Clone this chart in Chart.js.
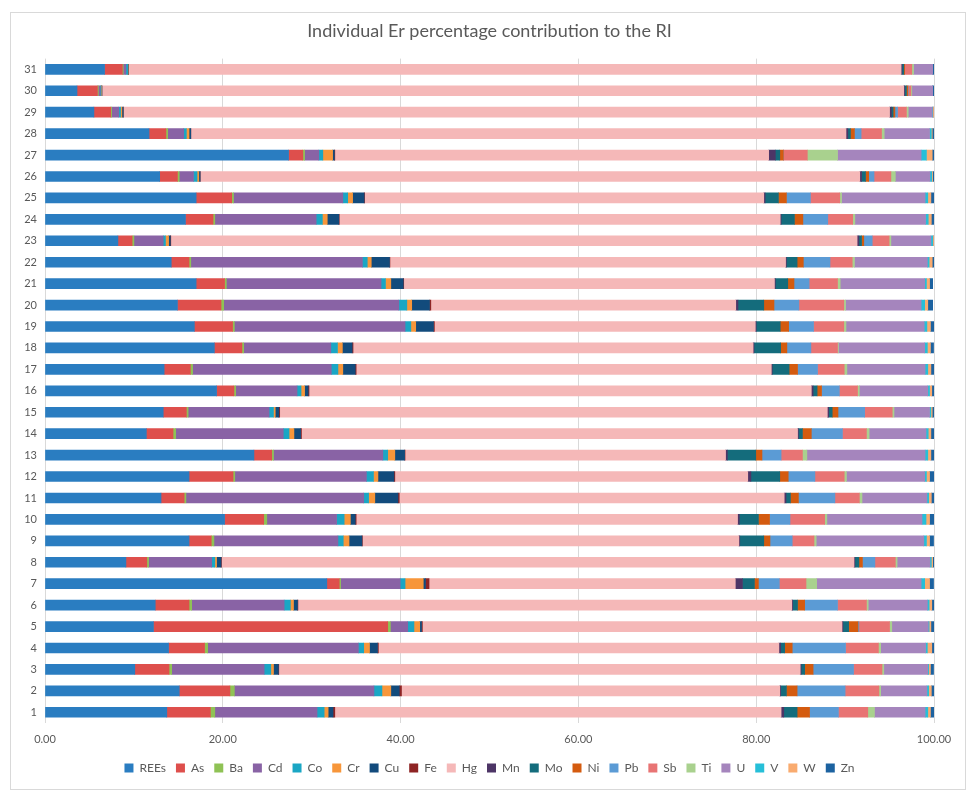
<!DOCTYPE html>
<html lang="en">
<head>
<meta charset="UTF-8">
<title>Individual Er percentage contribution to the RI</title>
<script src="https://cdn.jsdelivr.net/npm/chart.js"></script>
<style>
  html, body { margin: 0; padding: 0; background: #ffffff; }
  #wrap { width: 975px; height: 794px; position: relative; }
</style>
</head>
<body>
<div id="wrap">
  <canvas id="grafico" width="975" height="794"></canvas>
</div>

<script>
// rows 1..31 (row 1 is drawn at the bottom)
const linhas = ['1','2','3','4','5','6','7','8','9','10','11','12','13','14','15','16','17','18','19','20','21','22','23','24','25','26','27','28','29','30','31'];
const xTicks = [0, 20, 40, 60, 80, 100];

const rees = [13.7, 15.1, 10.1, 13.9, 12.2, 12.4, 31.7, 9.1, 16.2, 20.2, 13.05, 16.2, 23.5, 11.4, 13.3, 19.3, 13.4, 19.05, 16.8, 14.9, 17.0, 14.2, 8.2, 15.8, 17.0, 12.9, 27.4, 11.7, 5.5, 3.6, 6.7];
const as = [4.9, 5.7, 3.85, 4.05, 26.35, 3.8, 1.4, 2.35, 2.5, 4.4, 2.6, 4.95, 2.0, 3.0, 2.6, 1.95, 2.95, 3.1, 4.3, 4.9, 3.2, 2.0, 1.6, 3.1, 4.0, 2.0, 1.6, 1.9, 1.9, 2.3, 2.0];
const ba = [0.5, 0.5, 0.3, 0.35, 0.3, 0.3, 0.15, 0.2, 0.3, 0.35, 0.2, 0.2, 0.2, 0.3, 0.2, 0.2, 0.25, 0.2, 0.2, 0.3, 0.2, 0.2, 0.2, 0.2, 0.2, 0.2, 0.2, 0.2, 0.1, 0.1, 0.1];
const cd = [11.5, 15.7, 10.4, 16.95, 1.95, 10.4, 6.7, 7.1, 13.95, 7.85, 20.0, 14.8, 12.3, 12.1, 9.1, 6.9, 15.6, 9.8, 19.2, 19.7, 17.4, 19.3, 3.3, 11.4, 12.3, 1.6, 1.6, 1.8, 0.8, 0.2, 0.3];
const co = [0.8, 0.9, 0.75, 0.6, 0.7, 0.7, 0.55, 0.35, 0.6, 0.85, 0.55, 0.8, 0.55, 0.65, 0.5, 0.45, 0.75, 0.75, 0.65, 0.9, 0.5, 0.55, 0.25, 0.7, 0.55, 0.4, 0.45, 0.3, 0.2, 0.1, 0.2];
const cr = [0.45, 1.0, 0.3, 0.65, 0.65, 0.35, 2.05, 0.2, 0.65, 0.7, 0.7, 0.5, 0.8, 0.55, 0.2, 0.4, 0.55, 0.55, 0.55, 0.55, 0.6, 0.45, 0.35, 0.55, 0.55, 0.2, 1.1, 0.3, 0.15, 0.05, 0.05];
const cu = [0.55, 0.95, 0.55, 0.9, 0.2, 0.45, 0.25, 0.5, 1.45, 0.55, 2.6, 1.8, 1.1, 0.75, 0.4, 0.4, 1.4, 1.1, 2.0, 2.0, 1.4, 2.05, 0.2, 1.3, 1.3, 0.15, 0.2, 0.2, 0.15, 0.05, 0.05];
const fe = [0.2, 0.25, 0.05, 0.1, 0.1, 0.05, 0.4, 0.05, 0.05, 0.1, 0.15, 0.1, 0.05, 0.1, 0.1, 0.1, 0.1, 0.1, 0.1, 0.15, 0.05, 0.05, 0.05, 0.05, 0.05, 0.0, 0.05, 0.0, 0.0, 0.0, 0.0];
const hg = [50.2, 42.55, 58.65, 45.05, 47.2, 55.55, 34.45, 71.15, 42.35, 42.9, 43.3, 39.7, 36.05, 55.8, 61.6, 56.5, 46.7, 45.0, 36.1, 34.3, 41.7, 44.5, 77.2, 49.6, 44.9, 74.2, 48.8, 73.7, 86.2, 90.2, 86.9];
const mn = [0.3, 0.1, 0.1, 0.2, 0.1, 0.1, 0.8, 0.1, 0.1, 0.2, 0.2, 0.35, 0.2, 0.1, 0.15, 0.2, 0.1, 0.1, 0.1, 0.25, 0.1, 0.1, 0.2, 0.1, 0.15, 0.2, 0.75, 0.2, 0.2, 0.1, 0.1];
const mo = [1.5, 0.65, 0.4, 0.45, 0.65, 0.55, 1.35, 0.45, 2.7, 2.15, 0.5, 3.25, 3.2, 0.45, 0.4, 0.45, 1.9, 3.0, 2.7, 2.9, 1.4, 1.2, 0.3, 1.5, 1.5, 0.45, 0.5, 0.3, 0.2, 0.2, 0.2];
const ni = [1.4, 1.2, 0.95, 0.85, 1.05, 0.8, 0.45, 0.4, 0.7, 1.25, 0.9, 0.95, 0.7, 1.0, 0.65, 0.5, 0.95, 0.7, 0.95, 1.15, 0.7, 0.7, 0.25, 0.95, 0.9, 0.35, 0.4, 0.45, 0.2, 0.15, 0.1];
const pb = [3.25, 5.4, 4.55, 6.0, 0.1, 3.7, 2.35, 1.4, 2.5, 2.3, 4.1, 3.0, 2.15, 3.5, 3.0, 2.0, 2.25, 2.7, 2.8, 2.8, 1.7, 3.0, 0.95, 2.8, 2.7, 0.6, 0.0, 0.75, 0.3, 0.05, 0.0];
const sb = [3.3, 3.8, 3.2, 3.7, 3.45, 3.25, 3.0, 2.3, 2.45, 3.9, 2.75, 3.3, 2.4, 2.7, 3.1, 2.05, 3.0, 3.0, 3.4, 5.05, 3.2, 2.5, 1.9, 2.8, 3.3, 1.9, 2.7, 2.3, 1.0, 0.3, 0.8];
const ti = [0.75, 0.2, 0.2, 0.25, 0.25, 0.2, 1.2, 0.2, 0.25, 0.25, 0.3, 0.25, 0.5, 0.3, 0.2, 0.2, 0.3, 0.1, 0.25, 0.2, 0.3, 0.25, 0.2, 0.25, 0.2, 0.5, 3.4, 0.3, 0.2, 0.1, 0.2];
const u = [5.7, 5.2, 4.95, 5.05, 4.1, 6.65, 11.75, 3.7, 12.1, 10.7, 7.3, 8.8, 13.3, 6.4, 4.0, 7.7, 8.8, 9.7, 8.8, 8.5, 9.5, 8.2, 4.5, 7.95, 9.4, 3.9, 9.4, 5.1, 2.7, 2.35, 2.15];
const v = [0.3, 0.2, 0.1, 0.2, 0.1, 0.2, 0.4, 0.15, 0.3, 0.45, 0.2, 0.2, 0.3, 0.25, 0.15, 0.2, 0.3, 0.3, 0.3, 0.4, 0.2, 0.2, 0.2, 0.3, 0.3, 0.2, 0.6, 0.2, 0.05, 0.0, 0.0];
const w = [0.3, 0.3, 0.2, 0.5, 0.2, 0.3, 0.55, 0.15, 0.35, 0.4, 0.3, 0.35, 0.35, 0.3, 0.15, 0.25, 0.35, 0.35, 0.4, 0.35, 0.35, 0.35, 0.1, 0.35, 0.35, 0.1, 0.65, 0.1, 0.1, 0.0, 0.0];
const zn = [0.4, 0.3, 0.35, 0.3, 0.35, 0.35, 0.45, 0.2, 0.45, 0.55, 0.35, 0.55, 0.35, 0.35, 0.2, 0.25, 0.35, 0.35, 0.45, 0.55, 0.35, 0.35, 0.2, 0.35, 0.35, 0.2, 0.3, 0.3, 0.2, 0.15, 0.15];

const series = [
  ['REEs', rees, '#2a7dc1'],
  ['As', as, '#de4f4c'],
  ['Ba', ba, '#8fc255'],
  ['Cd', cd, '#8963a5'],
  ['Co', co, '#1aa6c4'],
  ['Cr', cr, '#f7963a'],
  ['Cu', cu, '#124b7c'],
  ['Fe', fe, '#8e2424'],
  ['Hg', hg, '#f5b8b8'],
  ['Mn', mn, '#4d3566'],
  ['Mo', mo, '#146c7c'],
  ['Ni', ni, '#d45b0f'],
  ['Pb', pb, '#5b9bd5'],
  ['Sb', sb, '#e87474'],
  ['Ti', ti, '#a9d18e'],
  ['U', u, '#a585bd'],
  ['V', v, '#26bfd8'],
  ['W', w, '#f9ab6f'],
  ['Zn', zn, '#1c62a0']
];

const moldura = {
  id: 'moldura',
  beforeDraw(chart) {
    const ctx = chart.ctx;
    ctx.save();
    ctx.fillStyle = '#ffffff';
    ctx.fillRect(0, 0, chart.width, chart.height);
    ctx.strokeStyle = '#d9d9d9';
    ctx.lineWidth = 1;
    ctx.strokeRect(10.5, 12.5, 955, 777);
    ctx.restore();
  }
};

const fonte = "Lato, 'Open Sans', sans-serif";

new Chart(document.getElementById('grafico'), {
  type: 'bar',
  data: {
    labels: linhas,
    datasets: series.map(s => ({
      label: s[0],
      data: s[1],
      backgroundColor: s[2],
      borderWidth: 0,
      barThickness: 10
    }))
  },
  options: {
    indexAxis: 'y',
    responsive: false,
    animation: false,
    layout: { padding: { left: 10, right: 41, top: 14, bottom: 10 } },
    plugins: {
      title: {
        display: true,
        fullSize: false,
        text: 'Individual Er percentage contribution to the RI',
        color: '#595959',
        font: { family: fonte, size: 18, weight: 'normal' },
        padding: { top: 6, bottom: 17 }
      },
      legend: {
        position: 'bottom',
        fullSize: false,
        labels: {
          color: '#595959',
          font: { family: fonte, size: 12 },
          boxWidth: 9,
          boxHeight: 9,
          padding: 10
        }
      },
      tooltip: { enabled: false }
    },
    scales: {
      x: {
        stacked: true,
        min: 0,
        max: 100,
        afterBuildTicks: sc => { sc.ticks = xTicks.map(t => ({ value: t })); },
        afterFit: sc => { sc.height = 29; },
        grid: { color: '#d9d9d9', drawTicks: false },
        border: { display: false },
        ticks: {
          color: '#595959',
          font: { family: fonte, size: 11 },
          padding: 10,
          callback: val => Number(val).toFixed(2)
        }
      },
      y: {
        stacked: true,
        reverse: true,
        afterFit: sc => { sc.width = 35; },
        grid: { display: false, drawTicks: false },
        border: { display: false },
        ticks: {
          color: '#595959',
          font: { family: fonte, size: 11 },
          padding: 8
        }
      }
    }
  },
  plugins: [moldura]
});
</script>
</body>
</html>
